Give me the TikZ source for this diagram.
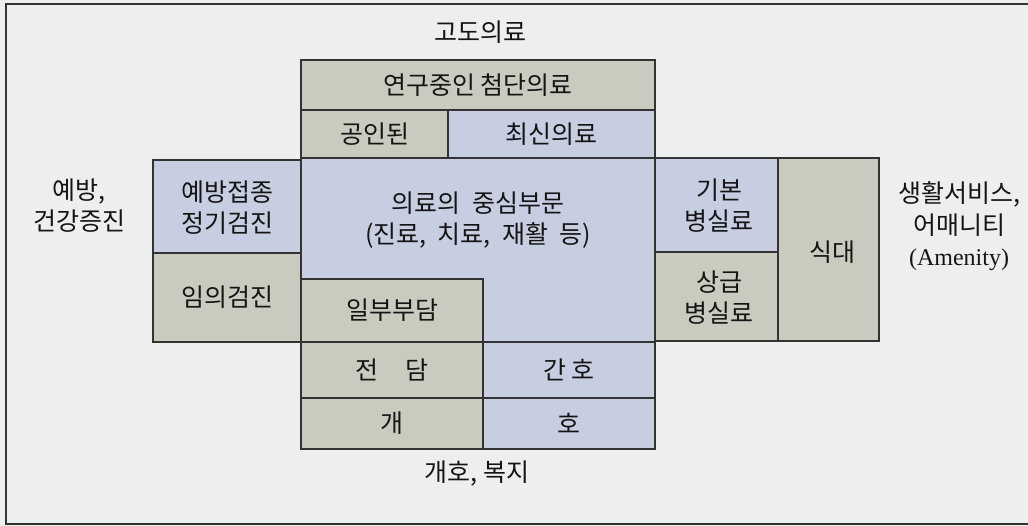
\documentclass[tikz,border=0pt]{standalone}
\usepackage{fontspec}
\setmainfont{Noto Sans CJK KR}
\newfontfamily\latinserif{Liberation Serif}
\definecolor{bg}{HTML}{ECEFED}
\definecolor{graybox}{HTML}{C9CBBE}
\definecolor{bluebox}{HTML}{C8CEE2}
\definecolor{ink}{HTML}{151515}
\definecolor{edge}{HTML}{333333}
\newcommand{\gap}{\hspace{0.45em}}
\begin{document}
\begin{tikzpicture}[x=1pt,y=-1pt,
  every node/.style={text=ink,font=\fontsize{25pt}{31pt}\selectfont},
  cell/.style={draw=edge,line width=1.3pt,inner sep=0pt,align=center},
  gcell/.style={cell,fill=graybox},
  bcell/.style={cell,fill=bluebox},
  lbl/.style={align=center,inner sep=0pt}]
\useasboundingbox (0,0) rectangle (1028,526);
\fill[bg] (0,0) rectangle (1028,526);
\draw[edge,line width=2pt] (1028,4) -- (6,4) -- (6,524) -- (1028,524);
% top
\node[gcell,minimum width=354pt,minimum height=50pt] (research) at (478,85) {연구중인 첨단의료};
\node[gcell,minimum width=147pt,minimum height=48pt] (approved) at (374.5,134) {공인된};
\node[bcell,minimum width=207pt,minimum height=48pt] (latest) at (551.5,134) {최신의료};
% central
\node[bcell,minimum width=354pt,minimum height=184pt] (core) at (478,250) {};
\node[lbl] (coretext) at (478,220) {의료의\gap 중심부문\\(진료,\gap 치료,\gap 재활\gap 등)};
% left
\node[bcell,minimum width=148pt,minimum height=93pt] (vacc) at (227,206.5) {};
\node[lbl] (vacctext) at (227,208) {예방접종\\정기검진};
\node[gcell,minimum width=148pt,minimum height=89pt] (optional) at (227,297.5) {임의검진};
% bottom
\node[gcell,minimum width=182pt,minimum height=63pt] (partial) at (392,310.5) {일부부담};
\node[gcell,minimum width=182pt,minimum height=56pt] (full) at (392,370) {전\hspace{1.1em}담};
\node[bcell,minimum width=172pt,minimum height=56pt] (nursing) at (569,370) {간 호};
\node[gcell,minimum width=182pt,minimum height=51pt] (care1) at (392,423.5) {개};
\node[bcell,minimum width=172pt,minimum height=51pt] (care2) at (569,423.5) {호};
% right
\node[bcell,minimum width=123pt,minimum height=94pt] (basic) at (716.5,205) {};
\node[lbl] (basictext) at (719,206) {기본\\병실료};
\node[gcell,minimum width=123pt,minimum height=89pt] (premium) at (716.5,296.5) {};
\node[lbl] (premiumtext) at (719,297.5) {상급\\병실료};
\node[gcell,minimum width=101pt,minimum height=183pt] (meal) at (828.5,249.5) {};
\node[lbl] (mealtext) at (832,252) {식대};
% outer labels
\node[lbl] (advanced) at (480,32.5) {고도의료};
\node[lbl] (prevent) at (79,205.5) {예방,\\건강증진};
\node[lbl] (amenity) at (959,226) {생활서비스,\\[1pt]어매니티\\{\latinserif\fontsize{24pt}{31pt}\selectfont (Amenity)}};
\node[lbl] (welfare) at (477,474) {개호, 복지};
\end{tikzpicture}
\end{document}
